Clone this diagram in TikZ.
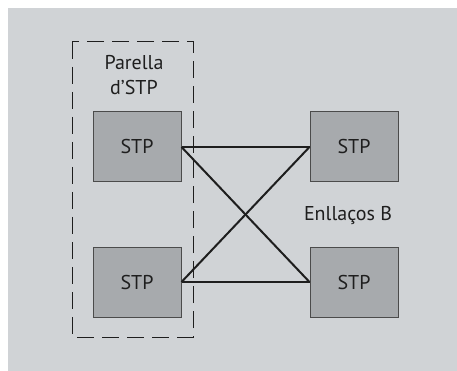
\documentclass[tikz,border=0pt]{standalone}
\usepackage{fontspec}
\setmainfont{PT Sans}
\usepackage{xcolor}
\usepackage{tikz}
\definecolor{panelgray}{HTML}{D0D3D6}
\definecolor{boxgray}{HTML}{A7AAAD}
\definecolor{inkgray}{HTML}{1E1E1E}
\tikzset{stp node/.style={rectangle,draw=inkgray!80,fill=boxgray,line width=1pt,minimum width=88pt,minimum height=70pt,inner sep=0pt,text=inkgray,font=\fontsize{20}{24}\selectfont},
            label node/.style={text=inkgray,font=\fontsize{20}{25}\selectfont,inner sep=0pt,align=center},
            }

\begin{document}
\begin{tikzpicture}[x=1pt,y=-1pt]
				\useasboundingbox (0,0) rectangle (457,371);
				\fill[panelgray] (8,8) rectangle (457,371);
				% pair of STPs
				\draw[inkgray,line width=1pt,dash pattern=on 17pt off 8pt] (72,42) rectangle (193,337);
				\node[label node] (pair) at (134,75) {Parella\\d'STP};
				
				\node[stp node] (A) at (137,147) {STP};
				\node[stp node] (B) at (137,282) {STP};
				\node[stp node] (C) at (354,147) {STP};
				\node[stp node] (D) at (354,282) {STP};
				\node[label node] (links) at (348,216) {Enllaços B};
				
				\draw[inkgray,line width=2pt] (A.east) to (C.west);
				\draw[inkgray,line width=2pt] (A.east) to (D.west);
				\draw[inkgray,line width=2pt] (B.east) to (C.west);
				\draw[inkgray,line width=2pt] (B.east) to (D.west);
			\end{tikzpicture}
\end{document}
